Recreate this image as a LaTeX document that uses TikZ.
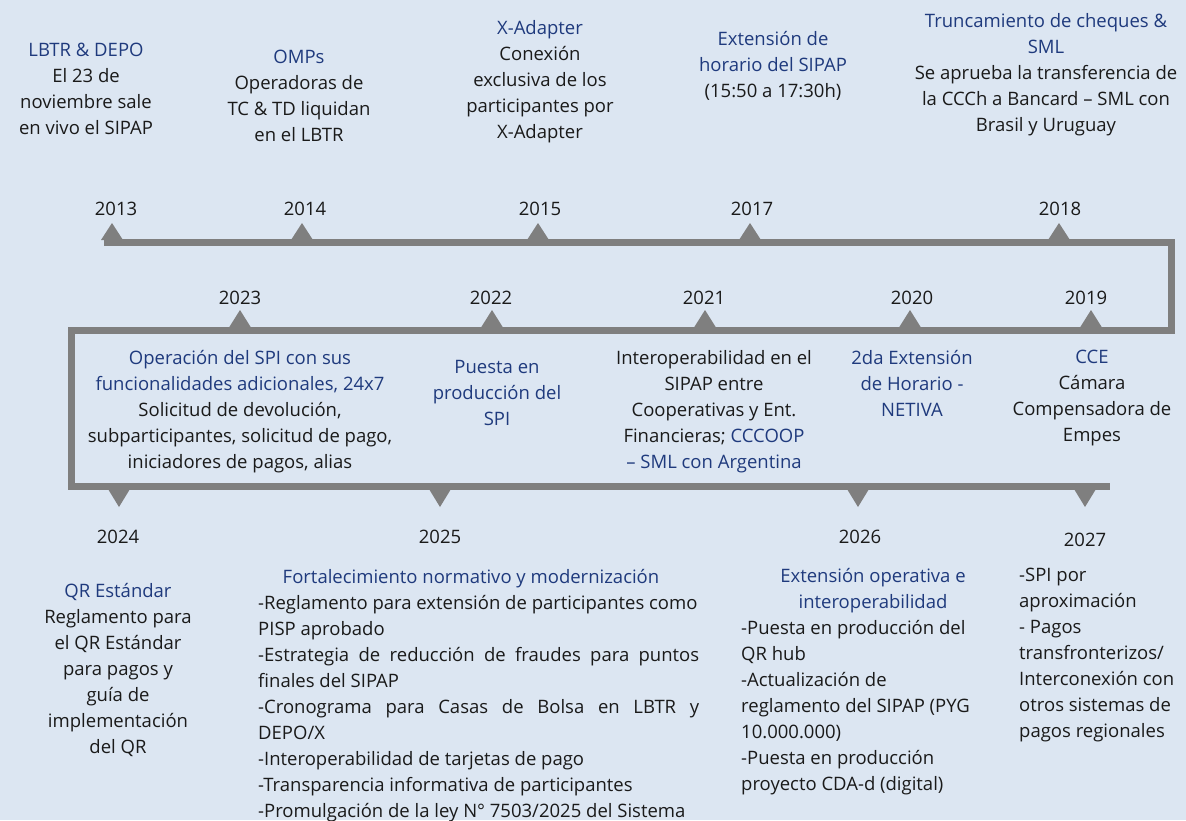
\documentclass[tikz,border=0pt]{standalone}
\usepackage{fontspec}
\setmainfont{Open Sans}

\definecolor{bgblue}{HTML}{DCE6F2}
\definecolor{linegray}{HTML}{7F7F7F}
\definecolor{titleblue}{HTML}{1F3A7D}
\definecolor{bodyblack}{HTML}{1A1A1A}

\tikzset{
  every node/.style={inner sep=0pt, text=bodyblack,
    font=\fontsize{18.5}{26}\selectfont},
  event/.style={align=center, anchor=north},
  eventlist/.style={align=left, anchor=north west},
  timeline/.style={draw=linegray, line width=7pt, line join=miter},
  marker/.style={fill=linegray},
}
\newcommand{\hl}[1]{\textcolor{titleblue}{#1}}
\newcommand{\spreadline}[1]{\makebox[441pt][s]{#1}}

\begin{document}
\begin{tikzpicture}[x=1pt,y=-1pt]
  \fill[bgblue] (0,0) rectangle (1186,820);
  \useasboundingbox (0,0) rectangle (1186,820);

  % timeline path
  \coordinate (tstart) at (104,242.5);
  \coordinate (tright) at (1171.5,242.5);
  \coordinate (mright) at (1171.5,330);
  \coordinate (mleft) at (71.5,330);
  \coordinate (bleft) at (71.5,486.5);
  \coordinate (bend) at (1110,486.5);
  \path[timeline] (tstart) -- (tright) -- (mright) -- (mleft) -- (bleft) -- (bend);

  % markers
  \foreach \tx in {112,302,538,750,1059}
    \fill[marker] (\tx-11,240) -- (\tx,223) -- (\tx+11,240) -- cycle;
  \foreach \tx in {240,492,705,910,1091}
    \fill[marker] (\tx-11,327.5) -- (\tx,310) -- (\tx+11,327.5) -- cycle;
  \foreach \tx in {119,440,858,1085}
    \fill[marker] (\tx-11,489) -- (\tx,507) -- (\tx+11,489) -- cycle;

  % years
  \node (y2013) at (116,209) {2013};
  \node (y2014) at (305,209) {2014};
  \node (y2015) at (540,209) {2015};
  \node (y2017) at (752,209) {2017};
  \node (y2018) at (1060,209) {2018};

  \node (y2023) at (240,298) {2023};
  \node (y2022) at (491,298) {2022};
  \node (y2021) at (704,298) {2021};
  \node (y2020) at (912,298) {2020};
  \node (y2019) at (1086,298) {2019};

  \node (y2024) at (118,537) {2024};
  \node (y2025) at (440,537) {2025};
  \node (y2026) at (860,537) {2026};
  \node (y2027) at (1085,540) {2027};

  % top events
  \node[event] (lbtr) at (86,43) {\hl{LBTR \& DEPO}\\El 23 de\\noviembre sale\\en vivo el SIPAP};
  \node[event] (omps) at (299,50) {\hl{OMPs}\\Operadoras de\\TC \& TD liquidan\\en el LBTR};
  \node[event] (xadapter) at (540,20) {\hl{X-Adapter}\\Conexión\\exclusiva de los\\participantes por\\X-Adapter};
  \node[event] (horario) at (773,31) {\hl{Extensión de}\\\hl{horario del SIPAP}\\(15:50 a 17:30h)};
  \node[event] (trunc) at (1046,13) {\hl{Truncamiento de cheques \&}\\\hl{SML}\\Se aprueba la transferencia de\\la CCCh a Bancard – SML con\\Brasil y Uruguay};

  % middle events
  \node[event] (spiop) at (240,350) {\hl{Operación del SPI con sus}\\\hl{funcionalidades adicionales, 24x7}\\Solicitud de devolución,\\subparticipantes, solicitud de pago,\\iniciadores de pagos, alias};
  \node[event] (spiprod) at (497,360) {\hl{Puesta en}\\\hl{producción del}\\\hl{SPI}};
  \node[event] (interop) at (714,350) {Interoperabilidad en el\\SIPAP entre\\Cooperativas y Ent.\\Financieras; \hl{CCCOOP}\\\hl{– SML con Argentina}};
  \node[event] (netiva) at (912,350) {\hl{2da Extensión}\\\hl{de Horario -}\\\hl{NETIVA}};
  \node[event] (cce) at (1092,350) {\hl{CCE}\\Cámara\\Compensadora de\\Empes};

  % bottom events
  \node[event] (qr) at (118,583) {\hl{QR Estándar}\\Reglamento para\\el QR Estándar\\para pagos y\\guía de\\implementación\\del QR};
  \node[event] (forttitle) at (471,569) {\hl{Fortalecimiento normativo y modernización}};
  \node[eventlist] (fortlist) at (258,595) {%
    -Reglamento para extensión de participantes como\\
    PISP aprobado\\
    \spreadline{-Estrategia de reducción de fraudes para puntos}\\
    finales del SIPAP\\
    \spreadline{-Cronograma para Casas de Bolsa en LBTR y}\\
    DEPO/X\\
    -Interoperabilidad de tarjetas de pago\\
    -Transparencia informativa de participantes\\
    -Promulgación de la ley N° 7503/2025 del Sistema};
  \node[event] (exttitle) at (873,568) {\hl{Extensión operativa e}\\\hl{interoperabilidad}};
  \node[eventlist] (extlist) at (741,620) {-Puesta en producción del\\QR hub\\-Actualización de\\reglamento del SIPAP (PYG\\10.000.000)\\-Puesta en producción\\proyecto CDA-d (digital)};
  \node[eventlist] (future) at (1019,568) {-SPI por\\aproximación\\- Pagos\\transfronterizos/\\Interconexión con\\otros sistemas de\\pagos regionales};
\end{tikzpicture}
\end{document}
